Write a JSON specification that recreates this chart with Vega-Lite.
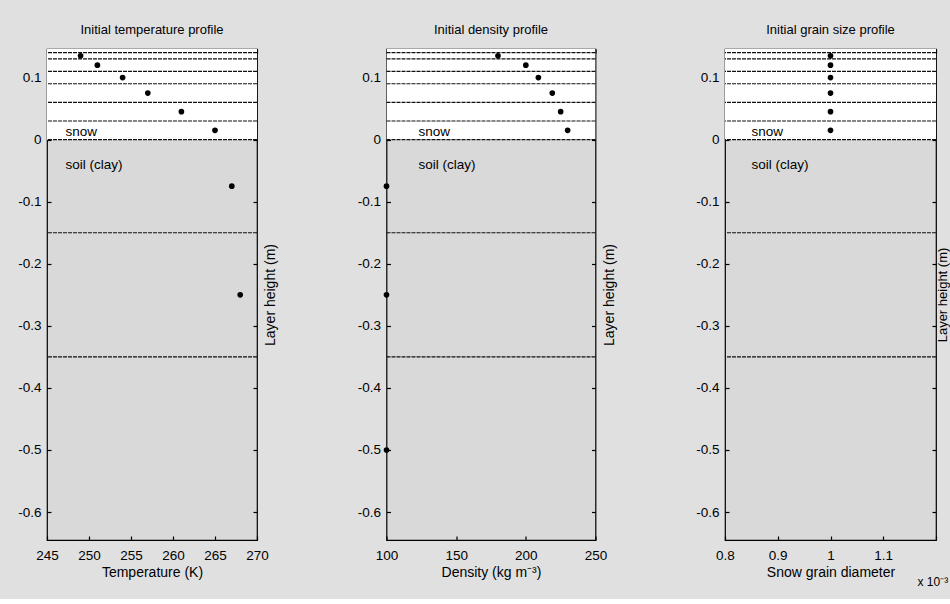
{
  "$schema": "https://vega.github.io/schema/vega-lite/v6.json",
  "background": "#e0e0e0",
  "padding": {"left": 17, "top": 23, "right": 2, "bottom": 10},
  "bounds": "flush",
  "spacing": 129.5,
  "config": {
    "font": "Liberation Sans",
    "view": {"stroke": "#000", "strokeWidth": 1.2, "fill": "#d9d9d9"},
    "axis": {
      "domain": false, "grid": false, "tickColor": "#000", "tickSize": -4, "tickWidth": 1.2,
      "labelColor": "#000", "labelFont": "Liberation Sans", "labelFontSize": 13.5, "labelOverlap": false, "labelFlush": false,
      "titleColor": "#000", "titleFont": "Liberation Sans", "titleFontSize": 14, "titleFontWeight": "normal"
    },
    "title": {"font": "Liberation Sans", "fontSize": 13, "fontWeight": "normal", "color": "#000", "offset": 11}
  },
  "datasets": {
    "snowpack": [{"medium": "snow", "bottom": 0, "top": 0.15}],
    "boundaries": [
      {"height": 0.14, "medium": "snow"}, {"height": 0.13, "medium": "snow"}, {"height": 0.11, "medium": "snow"},
      {"height": 0.09, "medium": "snow"}, {"height": 0.06, "medium": "snow"}, {"height": 0.03, "medium": "snow"},
      {"height": 0, "medium": "snow"}, {"height": -0.15, "medium": "soil"}, {"height": -0.35, "medium": "soil"}
    ],
    "media": [{"label": "snow", "height": 0.013}, {"label": "soil (clay)", "height": -0.041}],
    "temperature": [
      {"height": 0.135, "temperature": 249}, {"height": 0.12, "temperature": 251}, {"height": 0.1, "temperature": 254},
      {"height": 0.075, "temperature": 257}, {"height": 0.045, "temperature": 261}, {"height": 0.015, "temperature": 265},
      {"height": -0.075, "temperature": 267}, {"height": -0.25, "temperature": 268}
    ],
    "density": [
      {"height": 0.135, "density": 180}, {"height": 0.12, "density": 200}, {"height": 0.1, "density": 209},
      {"height": 0.075, "density": 219}, {"height": 0.045, "density": 225}, {"height": 0.015, "density": 230},
      {"height": -0.075, "density": 100}, {"height": -0.25, "density": 100}, {"height": -0.5, "density": 100}
    ],
    "grain": [
      {"height": 0.135, "diameter": 0.001}, {"height": 0.12, "diameter": 0.001}, {"height": 0.1, "diameter": 0.001},
      {"height": 0.075, "diameter": 0.001}, {"height": 0.045, "diameter": 0.001}, {"height": 0.015, "diameter": 0.001}
    ],
    "multiplier": [{"label": "x 10⁻³"}]
  },
  "hconcat": [
    {
      "width": 210, "height": 491,
      "title": "Initial temperature profile",
      "resolve": {"axis": {"x": "independent", "y": "independent"}},
      "layer": [
        {"data": {"name": "snowpack"}, "mark": {"type": "rect", "fill": "#ffffff", "clip": true},
         "encoding": {"y": {"field": "top", "type": "quantitative", "axis": null, "scale": {"domain": [-0.645, 0.146], "nice": false, "zero": false}}, "y2": {"field": "bottom"}}},
        {"data": {"name": "boundaries"}, "mark": {"type": "rule", "color": "#111111", "strokeWidth": 1.2, "strokeDash": [4, 1]},
         "encoding": {"y": {"field": "height", "type": "quantitative", "axis": null, "scale": {"domain": [-0.645, 0.146], "nice": false, "zero": false}}}},
        {"data": {"name": "media"}, "mark": {"type": "text", "align": "left", "baseline": "middle", "fontSize": 13.5, "color": "#000"},
         "encoding": {"x": {"datum": 247.2, "type": "quantitative", "axis": null, "scale": {"domain": [245, 270], "nice": false, "zero": false}},
                      "y": {"field": "height", "type": "quantitative", "axis": null, "scale": {"domain": [-0.645, 0.146], "nice": false, "zero": false}},
                      "text": {"field": "label"}}},
        {"data": {"name": "temperature"}, "mark": {"type": "circle", "size": 32, "color": "#000", "opacity": 1},
         "encoding": {
           "x": {"field": "temperature", "type": "quantitative", "title": "Temperature (K)", "scale": {"domain": [245, 270], "nice": false, "zero": false},
                 "axis": {"orient": "bottom", "values": [245, 250, 255, 260, 265, 270], "labelPadding": 12, "titlePadding": 4}},
           "y": {"field": "height", "type": "quantitative", "title": null, "scale": {"domain": [-0.645, 0.146], "nice": false, "zero": false},
                 "axis": {"orient": "left", "values": [0.1, 0, -0.1, -0.2, -0.3, -0.4, -0.5, -0.6], "labelPadding": 10,
                          "labelExpr": "datum.value < 0 ? '-' + format(-datum.value, '.1~f') : format(datum.value, '.1~f')"}}}},
        {"data": {"name": "temperature"}, "mark": {"type": "point", "opacity": 0},
         "encoding": {
           "x": {"field": "temperature", "type": "quantitative", "title": null, "scale": {"domain": [245, 270], "nice": false, "zero": false},
                 "axis": {"orient": "top", "values": [245, 250, 255, 260, 265, 270], "labels": false}},
           "y": {"field": "height", "type": "quantitative", "title": "Layer height (m)", "scale": {"domain": [-0.645, 0.146], "nice": false, "zero": false},
                 "axis": {"orient": "right", "values": [0.1, 0, -0.1, -0.2, -0.3, -0.4, -0.5, -0.6], "labels": false, "titleAngle": 270, "titlePadding": 20}}}}
      ]
    },
    {
      "width": 209, "height": 491,
      "title": "Initial density profile",
      "resolve": {"axis": {"x": "independent", "y": "independent"}},
      "layer": [
        {"data": {"name": "snowpack"}, "mark": {"type": "rect", "fill": "#ffffff", "clip": true},
         "encoding": {"y": {"field": "top", "type": "quantitative", "axis": null, "scale": {"domain": [-0.645, 0.146], "nice": false, "zero": false}}, "y2": {"field": "bottom"}}},
        {"data": {"name": "boundaries"}, "mark": {"type": "rule", "color": "#111111", "strokeWidth": 1.2, "strokeDash": [4, 1]},
         "encoding": {"y": {"field": "height", "type": "quantitative", "axis": null, "scale": {"domain": [-0.645, 0.146], "nice": false, "zero": false}}}},
        {"data": {"name": "media"}, "mark": {"type": "text", "align": "left", "baseline": "middle", "fontSize": 13.5, "color": "#000"},
         "encoding": {"x": {"datum": 123, "type": "quantitative", "axis": null, "scale": {"domain": [100, 250], "nice": false, "zero": false}},
                      "y": {"field": "height", "type": "quantitative", "axis": null, "scale": {"domain": [-0.645, 0.146], "nice": false, "zero": false}},
                      "text": {"field": "label"}}},
        {"data": {"name": "density"}, "mark": {"type": "circle", "size": 32, "color": "#000", "opacity": 1},
         "encoding": {
           "x": {"field": "density", "type": "quantitative", "title": "Density (kg m⁻³)", "scale": {"domain": [100, 250], "nice": false, "zero": false},
                 "axis": {"orient": "bottom", "values": [100, 150, 200, 250], "labelPadding": 12, "titlePadding": 4}},
           "y": {"field": "height", "type": "quantitative", "title": null, "scale": {"domain": [-0.645, 0.146], "nice": false, "zero": false},
                 "axis": {"orient": "left", "values": [0.1, 0, -0.1, -0.2, -0.3, -0.4, -0.5, -0.6], "labelPadding": 10,
                          "labelExpr": "datum.value < 0 ? '-' + format(-datum.value, '.1~f') : format(datum.value, '.1~f')"}}}},
        {"data": {"name": "density"}, "mark": {"type": "point", "opacity": 0},
         "encoding": {
           "x": {"field": "density", "type": "quantitative", "title": null, "scale": {"domain": [100, 250], "nice": false, "zero": false},
                 "axis": {"orient": "top", "values": [100, 150, 200, 250], "labels": false}},
           "y": {"field": "height", "type": "quantitative", "title": "Layer height (m)", "scale": {"domain": [-0.645, 0.146], "nice": false, "zero": false},
                 "axis": {"orient": "right", "values": [0.1, 0, -0.1, -0.2, -0.3, -0.4, -0.5, -0.6], "labels": false, "titleAngle": 270, "titlePadding": 20}}}}
      ]
    },
    {
      "width": 211, "height": 491,
      "title": "Initial grain size profile",
      "resolve": {"axis": {"x": "independent", "y": "independent"}},
      "layer": [
        {"data": {"name": "snowpack"}, "mark": {"type": "rect", "fill": "#ffffff", "clip": true},
         "encoding": {"y": {"field": "top", "type": "quantitative", "axis": null, "scale": {"domain": [-0.645, 0.146], "nice": false, "zero": false}}, "y2": {"field": "bottom"}}},
        {"data": {"name": "boundaries"}, "mark": {"type": "rule", "color": "#111111", "strokeWidth": 1.2, "strokeDash": [4, 1]},
         "encoding": {"y": {"field": "height", "type": "quantitative", "axis": null, "scale": {"domain": [-0.645, 0.146], "nice": false, "zero": false}}}},
        {"data": {"name": "media"}, "mark": {"type": "text", "align": "left", "baseline": "middle", "fontSize": 13.5, "color": "#000"},
         "encoding": {"x": {"datum": 0.00085, "type": "quantitative", "axis": null, "scale": {"domain": [0.0008, 0.0012], "nice": false, "zero": false}},
                      "y": {"field": "height", "type": "quantitative", "axis": null, "scale": {"domain": [-0.645, 0.146], "nice": false, "zero": false}},
                      "text": {"field": "label"}}},
        {"data": {"name": "multiplier"}, "mark": {"type": "text", "align": "left", "baseline": "middle", "fontSize": 12, "color": "#000"},
         "encoding": {"x": {"datum": 0.001165, "type": "quantitative", "axis": null, "scale": {"domain": [0.0008, 0.0012], "nice": false, "zero": false}},
                      "y": {"datum": -0.712, "type": "quantitative", "axis": null, "scale": {"domain": [-0.645, 0.146], "nice": false, "zero": false}},
                      "text": {"field": "label"}}},
        {"data": {"name": "grain"}, "mark": {"type": "circle", "size": 32, "color": "#000", "opacity": 1},
         "encoding": {
           "x": {"field": "diameter", "type": "quantitative", "title": "Snow grain diameter", "scale": {"domain": [0.0008, 0.0012], "nice": false, "zero": false},
                 "axis": {"orient": "bottom", "values": [0.0008, 0.0009, 0.001, 0.0011, 0.0012], "labelPadding": 12, "titlePadding": 4,
                          "labelExpr": "datum.value > 0.00115 ? '' : format(datum.value * 1000, '~g')"}},
           "y": {"field": "height", "type": "quantitative", "title": null, "scale": {"domain": [-0.645, 0.146], "nice": false, "zero": false},
                 "axis": {"orient": "left", "values": [0.1, 0, -0.1, -0.2, -0.3, -0.4, -0.5, -0.6], "labelPadding": 10,
                          "labelExpr": "datum.value < 0 ? '-' + format(-datum.value, '.1~f') : format(datum.value, '.1~f')"}}}},
        {"data": {"name": "grain"}, "mark": {"type": "point", "opacity": 0},
         "encoding": {
           "x": {"field": "diameter", "type": "quantitative", "title": null, "scale": {"domain": [0.0008, 0.0012], "nice": false, "zero": false},
                 "axis": {"orient": "top", "values": [0.0008, 0.0009, 0.001, 0.0011, 0.0012], "labels": false}},
           "y": {"field": "height", "type": "quantitative", "title": "Layer height (m)", "scale": {"domain": [-0.645, 0.146], "nice": false, "zero": false},
                 "axis": {"orient": "right", "values": [0.1, 0, -0.1, -0.2, -0.3, -0.4, -0.5, -0.6], "labels": false, "titleAngle": 270, "titlePadding": 13, "titleFontSize": 13}}}}
      ]
    }
  ]
}
